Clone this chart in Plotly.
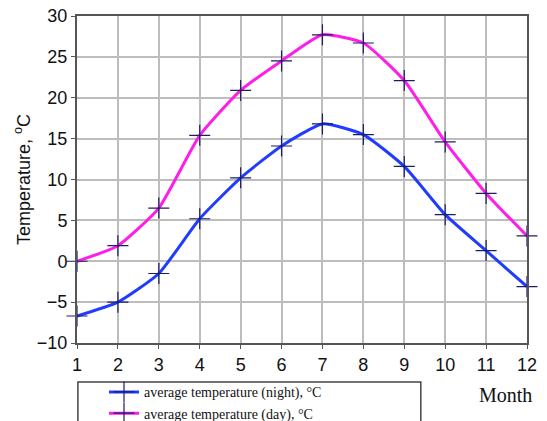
import plotly.graph_objects as go

months = [1, 2, 3, 4, 5, 6, 7, 8, 9, 10, 11, 12]
night = [-6.7, -5.0, -1.5, 5.2, 10.2, 14.1, 16.8, 15.5, 11.6, 5.7, 1.3, -3.1]
day = [0.0, 1.9, 6.5, 15.4, 20.9, 24.5, 27.7, 26.7, 22.1, 14.6, 8.3, 3.1]
x_ticks = months
y_ticks = [-10, -5, 0, 5, 10, 15, 20, 25, 30]

marker = dict(symbol="cross-thin", size=15, line=dict(color="#1c1c6a", width=1.2), color="#1c1c6a")

fig = go.Figure()
fig.add_trace(go.Scatter(x=months, y=night, mode="lines+markers",
                         name="average temperature (night), °C",
                         line=dict(color="#1f3cff", width=3, shape="spline", smoothing=0.5),
                         marker=marker, cliponaxis=False))
fig.add_trace(go.Scatter(x=months, y=day, mode="lines+markers",
                         name="average temperature (day), °C",
                         line=dict(color="#ff1ee8", width=3, shape="spline", smoothing=0.5),
                         marker=marker, cliponaxis=False))

axis_common = dict(showgrid=True, gridcolor="#bdbdbd", gridwidth=1.5,
                   showline=True, linecolor="#555555", linewidth=2, mirror=True,
                   ticks="outside", ticklen=4, tickcolor="#555555", zeroline=False,
                   automargin=False, ticklabeloverflow="allow",
                   tickfont=dict(family="Liberation Sans, Arial", size=18, color="#111"))

fig.update_xaxes(range=[1, 12], tickvals=x_ticks, **axis_common)
fig.update_yaxes(range=[-10, 30], tickvals=y_ticks,
                 ticktext=["\u221210", "\u22125", "0", "5", "10", "15", "20", "25", "30"],
                 title=dict(text="Temperature, <sup>o</sup>C", standoff=2,
                            font=dict(family="Liberation Sans, Arial", size=18, color="#111")),
                 **axis_common)

fig.add_shape(type="rect", xref="paper", yref="paper",
              x0=0.002, x1=0.764, y0=-0.4, y1=-0.119,
              line=dict(color="#444444", width=1.5), fillcolor="rgba(0,0,0,0)")

fig.add_annotation(text="Month", xref="paper", yref="paper", x=1.015, y=-0.12,
                   xanchor="right", yanchor="top", showarrow=False,
                   font=dict(family="Liberation Serif, Times New Roman", size=20, color="#111"))

fig.update_layout(
    width=539, height=413,
    margin=dict(l=69, r=20, t=8, b=78, autoexpand=False),
    plot_bgcolor="white", paper_bgcolor="white",
    showlegend=True,
    legend=dict(x=0.06, y=-0.102, xanchor="left", yanchor="top",
                bgcolor="rgba(0,0,0,0)", borderwidth=0,
                font=dict(family="Liberation Serif, Times New Roman", size=14, color="#111"),
                itemwidth=30, tracegroupgap=0),
)

fig.write_html("out.html")
